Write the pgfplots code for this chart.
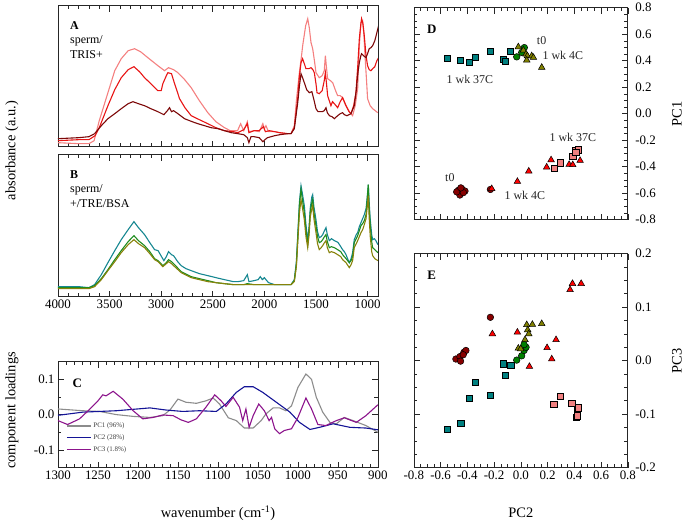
\documentclass[border=0pt]{standalone}
\usepackage{pgfplots}
\pgfplotsset{compat=1.18}
\usepackage{fontspec}
\setmainfont{Liberation Serif}
\definecolor{specpink}{RGB}{244,128,128}
\definecolor{specred}{RGB}{232,20,20}
\definecolor{specdark}{RGB}{125,8,8}
\definecolor{specteal}{RGB}{22,135,145}
\definecolor{specgreen}{RGB}{30,140,30}
\definecolor{specolive}{RGB}{135,130,10}
\definecolor{ptteal}{RGB}{0,128,128}
\definecolor{ptdark}{RGB}{135,0,0}
\definecolor{ptred}{RGB}{255,0,0}
\definecolor{ptpink}{RGB}{240,128,128}
\definecolor{ptolive}{RGB}{128,128,0}
\definecolor{ptgreen}{RGB}{0,128,0}
\definecolor{pcgray}{RGB}{140,140,140}
\definecolor{pcblue}{RGB}{20,20,150}
\definecolor{pcpurple}{RGB}{140,20,140}

\pgfplotsset{
  every axis/.append style={
    scale only axis,
    axis line style={line width=0.8bp, black!85},
    tick style={line width=0.6bp, black!85},
    major tick length=6bp, minor tick length=3.5bp,
    tick align=inside,
    tick label style={font=\fontsize{13}{15}\selectfont},
    label style={font=\fontsize{14.5}{17}\selectfont},
    /pgf/number format/assume math mode=true,
    /pgf/number format/1000 sep={},
  },
  spec/.style={x dir=reverse, xmin=900, xmax=4000,
    xtick={1000,1500,...,4000}, minor x tick num=4, ytick=\empty},
  pts/.style={only marks, mark options={draw=black, line width=0.5bp}},
}

\begin{document}
\begin{tikzpicture}
\path (0,0) rectangle (685bp,523bp);

% ---- A ----
\begin{axis}[spec, at={(58bp,377bp)}, anchor=south west, width=320bp, height=141bp,
  ymin=-1, ymax=140, xticklabels={}]
\addplot[specpink, line width=1.1bp] coordinates {
(4000,3) (3800,2) (3700,2) (3650,5) (3600,25) (3516,53) (3450,75) (3387,87) (3320,95) (3258,97) (3200,94) (3129,88) (3032,80) (2967,75) (2929,78) (2880,76) (2838,73) (2780,67) (2709,58) (2630,45) (2548,33) (2470,24) (2387,18) (2330,15) (2260,15) (2230,22) (2200,15) (2165,24) (2150,14) (2100,15) (2050,14) (2015,22) (2000,17) (1985,20) (1960,14) (1900,14) (1850,13) (1774,12) (1742,12) (1710,20) (1690,45) (1661,73) (1640,90) (1629,100) (1600,120) (1580,127) (1565,118) (1548,103) (1532,97) (1515,85) (1500,73) (1468,68) (1440,70) (1420,75) (1409,90) (1400,80) (1387,67) (1360,65) (1338,63) (1310,55) (1290,50) (1265,50) (1242,48) (1220,42) (1193,37) (1170,33) (1145,30) (1120,40) (1096,57) (1080,100) (1064,123) (1048,125) (1035,110) (1025,90) (1010,65) (1000,47) (975,40) (951,37) (925,35) (903,33)};
\addplot[specred, line width=1.1bp] coordinates {
(4000,5) (3800,6) (3700,6) (3640,10) (3600,18) (3516,40) (3450,56) (3387,68) (3320,76) (3264,79) (3210,74) (3161,68) (3100,62) (3032,55) (3000,55) (2984,62) (2950,70) (2935,73) (2900,72) (2870,62) (2822,47) (2770,38) (2709,30) (2630,26) (2548,22) (2470,18) (2387,15) (2300,14) (2257,13) (2200,16) (2165,22) (2150,13) (2100,15) (2050,15) (2010,19) (1990,14) (1950,15) (1900,14) (1850,13) (1774,12) (1742,12) (1710,18) (1677,47) (1660,70) (1645,83) (1630,87) (1613,82) (1597,77) (1570,77) (1548,78) (1530,76) (1516,73) (1500,62) (1490,53) (1468,52) (1440,55) (1420,65) (1409,73) (1398,62) (1387,50) (1355,40) (1340,44) (1322,42) (1290,38) (1265,44) (1242,48) (1225,44) (1209,40) (1180,34) (1161,32) (1135,40) (1113,53) (1095,80) (1080,107) (1065,122) (1058,127) (1045,122) (1032,110) (1015,90) (1000,80) (984,76) (968,75) (950,77) (930,79) (910,85) (893,88)};
\addplot[specdark, line width=1.1bp] coordinates {
(4000,7) (3800,8) (3700,9) (3645,12) (3580,20) (3516,27) (3450,32) (3387,37) (3320,42) (3274,44) (3220,42) (3161,40) (3100,37) (3032,34) (2974,31) (2940,35) (2919,38) (2900,34) (2880,35) (2838,32) (2774,27) (2700,24) (2645,22) (2580,20) (2516,18) (2450,17) (2387,15) (2320,13) (2257,12) (2200,11) (2165,8) (2150,3) (2130,9) (2100,9) (2050,8) (2015,4) (1995,6) (1970,8) (1900,10) (1850,11) (1774,12) (1742,12) (1710,17) (1677,43) (1660,60) (1645,72) (1630,68) (1613,63) (1590,56) (1564,53) (1540,54) (1520,46) (1500,37) (1480,34) (1440,34) (1420,35) (1403,38) (1390,33) (1370,30) (1345,29) (1322,27) (1290,30) (1265,32) (1242,33) (1225,31) (1200,30) (1161,32) (1129,40) (1110,55) (1095,72) (1080,83) (1065,90) (1058,92) (1040,90) (1016,88) (1000,92) (984,97) (968,98) (951,100) (930,105) (910,113) (893,120)};
\node[anchor=north west, align=left, font=\fontsize{12}{14.5}\selectfont, inner sep=0pt] at (rel axis cs:0.0375,0.89) {\textbf{A}\\sperm/\\TRIS+};
\end{axis}

% ---- B ----
\begin{axis}[spec, at={(58bp,227bp)}, anchor=south west, width=320bp, height=142bp,
  ymin=0, ymax=142, ylabel={absorbance (a.u.)},
  ylabel style={at={(axis description cs:-0.144,1.028)}, anchor=center}]
\addplot[specteal, line width=1.1bp] coordinates {
(4000,10) (3800,10) (3700,9) (3645,12) (3580,22) (3516,34) (3450,46) (3387,57) (3320,67) (3264,75) (3220,69) (3161,62) (3110,54) (3064,47) (3030,46) (2974,36) (2950,40) (2929,45) (2900,42) (2880,41) (2840,35) (2806,31) (2760,28) (2709,26) (2630,23) (2548,21) (2470,19) (2387,17) (2300,15) (2257,15) (2200,16) (2165,22) (2150,15) (2100,16) (2060,17) (2040,20) (2020,17) (2000,19) (1985,17) (1960,14) (1900,12) (1800,12) (1742,12) (1710,17) (1690,35) (1677,61) (1660,95) (1645,111) (1630,102) (1613,91) (1597,72) (1580,56) (1567,70) (1555,89) (1540,100) (1532,102) (1520,90) (1500,77) (1485,65) (1468,59) (1450,60) (1435,62) (1418,66) (1403,69) (1390,62) (1371,56) (1350,58) (1322,56) (1300,55) (1285,54) (1260,50) (1242,47) (1225,45) (1209,42) (1190,37) (1177,34) (1160,38) (1145,44) (1129,57) (1110,62) (1096,64) (1080,70) (1064,74) (1048,78) (1032,82) (1015,88) (1005,98) (993,112) (985,95) (974,77) (960,62) (951,57) (935,58) (919,56) (900,52)};
\addplot[specgreen, line width=1.1bp] coordinates {
(4000,9) (3800,9) (3700,9) (3645,11) (3580,18) (3516,27) (3450,37) (3387,46) (3320,55) (3264,61) (3220,56) (3161,51) (3110,45) (3064,38) (3030,36) (2984,31) (2950,34) (2929,37) (2900,35) (2880,33) (2806,25) (2709,20) (2630,18) (2548,16) (2470,14) (2387,13) (2300,12) (2200,12) (2165,13) (2100,12) (2000,12) (1900,12) (1800,12) (1742,12) (1710,16) (1690,32) (1677,58) (1660,92) (1645,107) (1630,96) (1613,84) (1597,66) (1580,52) (1567,66) (1555,85) (1540,94) (1532,97) (1520,84) (1500,71) (1485,60) (1468,54) (1450,55) (1435,57) (1418,60) (1403,62) (1390,55) (1371,49) (1350,50) (1322,49) (1290,47) (1260,45) (1242,42) (1209,38) (1177,34) (1160,36) (1145,40) (1129,54) (1110,58) (1096,61) (1080,66) (1064,71) (1048,73) (1032,76) (1015,82) (1005,95) (993,112) (985,90) (974,70) (960,55) (951,49) (930,47) (900,44)};
\addplot[specolive, line width=1.1bp] coordinates {
(4000,8) (3800,8) (3700,8) (3645,10) (3580,17) (3516,26) (3450,35) (3387,44) (3320,52) (3264,57) (3220,53) (3161,49) (3110,43) (3064,37) (3030,35) (2984,30) (2950,33) (2929,35) (2900,33) (2880,31) (2806,24) (2709,19) (2630,17) (2548,15) (2470,14) (2387,13) (2300,12) (2200,12) (2100,12) (2000,12) (1900,12) (1800,12) (1742,12) (1710,15) (1690,30) (1677,53) (1660,84) (1645,97) (1630,88) (1613,77) (1597,60) (1580,49) (1567,62) (1555,80) (1540,88) (1532,91) (1520,78) (1500,64) (1485,53) (1468,47) (1450,49) (1435,51) (1418,54) (1403,56) (1390,49) (1371,44) (1350,45) (1322,44) (1290,42) (1260,40) (1242,37) (1209,34) (1177,29) (1160,32) (1145,36) (1129,49) (1110,53) (1096,56) (1080,60) (1064,64) (1048,67) (1032,72) (1015,78) (1005,88) (993,101) (985,80) (974,60) (960,45) (951,41) (930,38) (900,36)};
\node[anchor=north west, align=left, font=\fontsize{12}{14.5}\selectfont, inner sep=0pt] at (rel axis cs:0.0375,0.89) {\textbf{B}\\sperm/\\+/TRE/BSA};
\end{axis}

% ---- C ----
\begin{axis}[at={(58bp,56bp)}, anchor=south west, width=320bp, height=106bp,
  x dir=reverse, xmin=900, xmax=1300, xtick={900,950,...,1300}, minor x tick num=4,
  ymin=-0.15, ymax=0.15, ytick={-0.1,0,0.1}, minor y tick num=1,
  yticklabel style={/pgf/number format/.cd, fixed, fixed zerofill, precision=1},
  xlabel={wavenumber (cm\textsuperscript{-1})}, ylabel={component loadings},
  xlabel style={at={(axis description cs:0.5,-0.434)}, anchor=center},
  ylabel style={at={(axis description cs:-0.144,0.54)}, anchor=center},
  legend style={at={(0.016,0.1)}, anchor=south west, draw=none, fill=none,
    font=\fontsize{7}{8}\selectfont, text=black!75, row sep=1.5bp},
  legend cell align=left,
  legend image code/.code={\draw[#1] (0bp,0bp) -- (24bp,0bp);}]
\addplot[pcgray, line width=1.1bp] coordinates {
(1300,0.016) (1269,0.011) (1248,0.009) (1227,0.0) (1206,-0.005) (1185,-0.008) (1169,-0.003) (1160,0.013) (1150,0.044) (1140,0.035) (1127,0.032) (1115,0.039) (1106,0.047) (1098,0.030) (1087,-0.009) (1077,-0.017) (1067,-0.038) (1056,-0.038) (1046,-0.017) (1040,0.002) (1031,0.019) (1023,0.019) (1015,0.011) (1008,0.025) (1000,0.077) (990,0.115) (983,0.10) (977,0.049) (969,0.007) (960,-0.022) (952,-0.026) (942,-0.008) (931,-0.017) (915,-0.031) (900,-0.05)};
\addplot[pcblue, line width=1.1bp] coordinates {
(1300,-0.002) (1269,0.007) (1248,0.009) (1227,0.011) (1206,0.015) (1185,0.019) (1165,0.013) (1144,0.009) (1123,0.011) (1102,0.009) (1090,0.03) (1077,0.063) (1067,0.079) (1056,0.079) (1044,0.063) (1027,0.035) (1010,0.007) (998,-0.022) (985,-0.042) (973,-0.036) (956,-0.026) (935,-0.036) (915,-0.038) (900,-0.043)};
\addplot[pcpurple, line width=1.1bp] coordinates {
(1300,-0.017) (1288,-0.028) (1273,-0.012) (1260,0.016) (1250,0.039) (1244,0.056) (1240,0.053) (1231,0.066) (1219,0.044) (1206,0.011) (1194,-0.012) (1181,-0.008) (1169,-0.001) (1156,-0.003) (1146,-0.015) (1137,-0.022) (1127,-0.012) (1115,0.021) (1104,0.056) (1096,0.039) (1090,0.023) (1081,0.049) (1073,0.021) (1069,-0.017) (1065,0.016) (1061,-0.036) (1056,-0.003) (1049,0.03) (1042,0.011) (1036,-0.017) (1033,-0.008) (1029,-0.04) (1023,-0.054) (1017,-0.045) (1008,-0.04) (1000,-0.008) (990,0.047) (983,0.016) (975,-0.028) (965,-0.031) (952,-0.017) (942,-0.009) (927,-0.022) (915,-0.003) (900,0.028)};
\legend{PC1 (96\%), PC2 (28\%), PC3 (1.8\%)}
\node[font=\fontsize{13}{15}\selectfont\bfseries] at (rel axis cs:0.06,0.80) {C};
\end{axis}

% ---- D ----
\begin{axis}[at={(414bp,304bp)}, anchor=south west, width=214bp, height=212bp,
  xmin=-0.8, xmax=0.8, ymin=-0.8, ymax=0.8,
  xtick={-0.8,-0.6,...,0.8}, ytick={-0.8,-0.6,...,0.8}, minor tick num=3,
  xticklabels={}, yticklabel pos=right,
  yticklabel style={xshift=4bp, /pgf/number format/.cd, fixed, fixed zerofill, precision=1},
  ylabel={PC1}, ylabel style={at={(axis description cs:1.229,0.5)}, anchor=center}]
\addplot[pts, mark=square*, mark size=3.1bp, fill=ptteal] coordinates {
(-0.548,0.419) (-0.453,0.401) (-0.386,0.386) (-0.341,0.429) (-0.231,0.474) (-0.129,0.411) (-0.116,0.394) (-0.079,0.469)};
\addplot[pts, mark=*, mark size=3.3bp, fill=ptgreen] coordinates {
(-0.031,0.429) (0.026,0.499) (0.006,0.462)};
\addplot[pts, mark=triangle*, mark size=3.8bp, fill=ptolive] coordinates {
(-0.019,0.504) (0.019,0.479) (0.039,0.449) (0.049,0.436) (0.081,0.436) (0.044,0.404) (0.094,0.424) (0.156,0.349)};
\addplot[pts, mark=*, mark size=3.3bp, fill=ptdark] coordinates {
(-0.468,-0.579) (-0.443,-0.567) (-0.418,-0.584) (-0.456,-0.614) (-0.48,-0.59) (-0.43,-0.596) (-0.449,-0.56) (-0.228,-0.572)};
\addplot[pts, mark=triangle*, mark size=3.8bp, fill=ptred] coordinates {
(-0.218,-0.567) (-0.026,-0.512) (0.059,-0.434) (0.193,-0.404) (0.226,-0.349) (0.361,-0.384) (0.388,-0.386) (0.443,-0.354)};
\addplot[pts, mark=square*, mark size=3.1bp, fill=ptpink] coordinates {
(0.248,-0.409) (0.293,-0.371) (0.388,-0.321) (0.406,-0.278) (0.431,-0.273) (0.411,-0.291)};
\node[font=\fontsize{13}{15}\selectfont\bfseries] at (rel axis cs:0.084,0.90) {D};
\begin{scope}[every node/.style={font=\fontsize{12}{14}\selectfont, text=black!85}]
\node at (axis cs:0.155,0.551) {t0};
\node at (axis cs:0.314,0.438) {1 wk 4C};
\node at (axis cs:-0.381,0.257) {1 wk 37C};
\node at (axis cs:0.389,-0.181) {1 wk 37C};
\node at (axis cs:-0.531,-0.483) {t0};
\node at (axis cs:0.03,-0.619) {1 wk 4C};
\end{scope}
\end{axis}

% ---- E ----
\begin{axis}[at={(414bp,56bp)}, anchor=south west, width=214bp, height=214bp,
  xmin=-0.8, xmax=0.8, ymin=-0.2, ymax=0.2,
  xtick={-0.8,-0.6,...,0.8}, ytick={-0.2,-0.1,...,0.2}, minor tick num=3,
  yticklabel pos=right,
  xticklabel style={/pgf/number format/.cd, fixed, fixed zerofill, precision=1},
  yticklabel style={xshift=4bp, /pgf/number format/.cd, fixed, fixed zerofill, precision=1},
  xlabel={PC2}, xlabel style={at={(axis description cs:0.5,-0.21)}, anchor=center},
  ylabel={PC3}, ylabel style={at={(axis description cs:1.229,0.5)}, anchor=center}]
\addplot[pts, mark=square*, mark size=3.1bp, fill=ptteal] coordinates {
(-0.548,-0.128) (-0.45,-0.1175) (-0.386,-0.07) (-0.341,-0.041) (-0.231,-0.064) (-0.131,-0.006) (-0.076,-0.009) (-0.114,-0.028)};
\addplot[pts, mark=square*, mark size=3.1bp, fill=ptpink] coordinates {
(0.246,-0.081) (0.293,-0.067) (0.381,-0.080) (0.423,-0.091) (0.431,-0.088) (0.413,-0.106) (0.423,-0.103)};
\addplot[pts, mark=*, mark size=3.3bp, fill=ptdark] coordinates {
(-0.486,0.003) (-0.456,0.0075) (-0.451,-0.001) (-0.426,0.0156) (-0.411,0.019) (-0.431,0.011) (-0.228,0.081)};
\addplot[pts, mark=triangle*, mark size=3.8bp, fill=ptred] coordinates {
(0.386,0.144) (0.451,0.144) (0.368,0.1325) (-0.213,0.05) (-0.026,0.053) (0.064,-0.011) (0.196,0.024) (0.263,0.039) (0.231,0.003)};
\addplot[pts, mark=*, mark size=3.3bp, fill=ptgreen] coordinates {
(-0.031,0.001) (0.006,0.009) (0.024,0.019) (0.039,0.025) (0.024,0.030)};
\addplot[pts, mark=triangle*, mark size=3.8bp, fill=ptolive] coordinates {
(0.044,0.067) (0.086,0.0675) (0.156,0.069) (0.051,0.0575) (0.059,0.05) (0.031,0.039) (-0.019,0.023) (-0.001,0.022)};
\node[font=\fontsize{13}{15}\selectfont\bfseries] at (rel axis cs:0.083,0.897) {E};
\end{axis}
\end{tikzpicture}
\end{document}
